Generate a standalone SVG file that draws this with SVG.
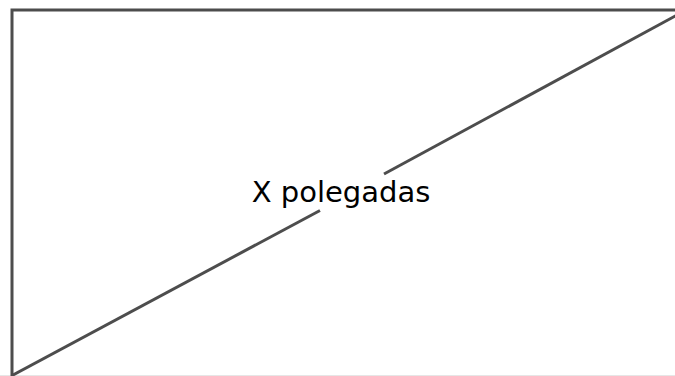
<svg xmlns="http://www.w3.org/2000/svg" width="675" height="376" viewBox="0 0 675 376">
  <style>
    .edge { stroke: #4d4d4d; stroke-width: 3; fill: none; stroke-linecap: butt; }
    .label { font-family: "DejaVu Sans", sans-serif; font-size: 29px; fill: #000; }
  </style>
  <rect width="675" height="376" fill="#ffffff"/>
  <line x1="0" y1="375.5" x2="675" y2="375.5" stroke="#e6e6e6" stroke-width="1"/>
  <g id="frame">
    <path class="edge" d="M12,376 L12,10 L676,10"/>
  </g>
  <g id="connectors">
    <line class="edge" x1="12" y1="375.5" x2="320" y2="210.5"/>
    <line class="edge" x1="384" y1="174" x2="677" y2="15"/>
  </g>
  <g id="label">
    <text class="label" x="341" y="202" text-anchor="middle">X polegadas</text>
  </g>
</svg>
